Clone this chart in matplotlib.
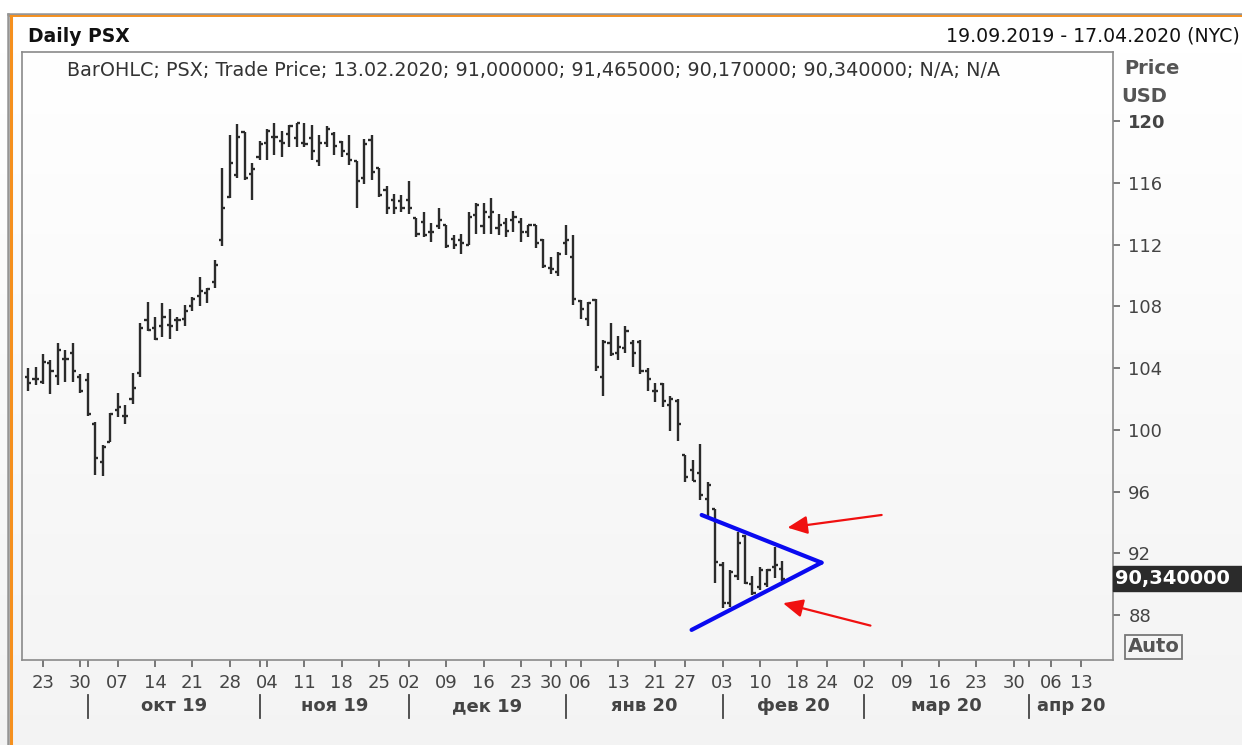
import matplotlib
matplotlib.use('Agg')
import matplotlib.pyplot as plt
import numpy as np
import pandas as pd
from matplotlib.patches import Rectangle
from matplotlib.lines import Line2D

# ---------------- data ----------------
holidays = ['2019-11-28', '2019-12-25', '2020-01-01', '2020-01-20', '2020-02-17', '2020-04-10']
range_start, range_end = '2019-09-19', '2020-04-17'

opens = [103.45, 103.3, 103.1, 104.3, 103.5, 104.6, 105.0, 103.4, 103.2, 100.4,
         97.9, 99.2, 101.3, 100.9, 102.0, 103.7, 107.1, 106.6, 106.7, 106.8,
         107.1, 107.2, 108.0, 108.7, 108.85, 109.6, 112.3, 115.1, 116.5, 119.3,
         116.6, 117.7, 118.6, 119.0, 118.7, 119.2, 118.9, 118.6, 118.9, 117.4,
         118.6, 119.2, 118.68, 117.9, 117.4, 116.3, 118.8, 116.95, 115.55, 114.9,
         114.8, 114.9, 113.7, 113.5, 112.8, 113.2, 113.3, 112.4, 112.3, 112.0,
         113.9, 113.2, 113.8, 113.1, 113.4, 113.6, 113.5, 112.8, 113.3, 112.3,
         110.5, 110.25, 112.1, 111.2, 108.35, 107.2, 108.4, 103.45, 105.65, 105.0,
         105.3, 105.65, 105.7, 103.8, 102.5, 103.0, 101.6, 101.9, 98.37, 97.4,
         97.2, 95.5, 94.85, 91.24, 88.75, 90.5, 93.1, 90.0, 89.84, 90.0,
         91.1, 91.0]
highs = [104.0, 104.1, 104.9, 104.5, 105.6, 105.2, 105.6, 103.6, 103.7, 100.5,
         99.0, 101.1, 102.4, 101.6, 103.7, 106.9, 108.3, 107.3, 108.2, 107.8,
         107.3, 108.1, 108.6, 109.9, 109.2, 111.0, 117.0, 119.1, 119.8, 119.3,
         117.3, 118.7, 119.5, 119.9, 119.4, 119.76, 119.9, 119.9, 119.76, 119.1,
         119.7, 119.3, 118.74, 119.1, 117.4, 118.83, 119.1, 117.0, 115.8, 115.3,
         115.2, 116.1, 113.7, 114.1, 113.4, 114.4, 113.3, 112.6, 112.7, 114.1,
         114.7, 114.7, 115.0, 114.0, 113.7, 114.2, 113.7, 113.3, 113.3, 112.4,
         111.2, 111.5, 113.3, 112.6, 108.4, 108.3, 108.5, 105.8, 106.9, 106.1,
         106.7, 105.8, 105.8, 104.0, 103.06, 103.06, 102.2, 102.0, 98.4, 98.05,
         99.08, 96.6, 94.9, 91.4, 90.9, 93.4, 93.2, 90.5, 91.1, 90.96,
         92.43, 91.465]
lows = [102.5, 102.9, 103.0, 102.3, 102.9, 103.1, 103.1, 102.4, 100.9, 97.1,
        97.0, 99.2, 100.8, 100.4, 101.7, 103.4, 106.4, 105.8, 106.0, 105.9,
        106.4, 106.7, 107.7, 108.0, 108.2, 109.2, 111.9, 115.0, 116.3, 116.2,
        114.9, 117.5, 117.5, 117.8, 117.7, 118.31, 118.3, 118.35, 117.5, 117.1,
        118.35, 117.8, 117.7, 117.17, 114.36, 115.93, 116.2, 115.1, 114.0, 114.0,
        114.1, 114.0, 112.5, 112.5, 112.2, 113.0, 111.8, 111.7, 111.4, 112.0,
        112.7, 112.7, 112.7, 112.6, 112.5, 112.8, 112.2, 112.5, 111.8, 110.5,
        110.1, 110.0, 111.3, 108.1, 107.2, 106.7, 103.8, 102.2, 104.8, 104.5,
        104.96, 104.05, 103.6, 102.5, 101.8, 101.46, 99.95, 99.3, 96.65, 96.7,
        95.45, 94.4, 90.05, 88.43, 88.5, 90.27, 90.0, 89.3, 89.6, 89.84,
        90.4, 90.17]
closes = [103.06, 103.3, 104.4, 103.8, 105.2, 104.6, 103.8, 102.5, 101.0, 98.2,
          98.9, 101.0, 101.5, 100.9, 102.7, 106.6, 106.5, 105.9, 107.3, 106.7,
          107.1, 107.7, 108.5, 109.0, 109.1, 110.7, 114.4, 117.3, 119.0, 116.3,
          116.9, 118.5, 119.4, 119.0, 118.6, 119.7, 119.9, 118.5, 118.1, 118.57,
          119.5, 118.4, 118.1, 117.5, 116.15, 118.5, 116.7, 115.2, 114.4, 114.4,
          114.4, 114.4, 112.7, 112.6, 112.85, 113.6, 111.9, 112.0, 112.1, 113.8,
          114.6, 114.1, 114.1, 113.3, 112.9, 113.8, 112.8, 113.3, 112.1, 110.6,
          110.4, 111.4, 112.3, 108.5, 107.8, 108.2, 104.1, 105.7, 104.9, 105.4,
          106.4, 104.96, 103.8, 103.3, 102.5, 101.9, 102.0, 100.4, 96.97, 96.7,
          95.8, 96.4, 91.4, 88.8, 90.8, 92.65, 90.1, 89.4, 90.9, 90.9,
          91.25, 90.34]

y_ticks = [88, 92, 96, 100, 104, 108, 112, 116, 120]
month_names = {10: 'окт', 11: 'ноя', 12: 'дек', 1: 'янв', 2: 'фев', 3: 'мар', 4: 'апр'}

# drawn pattern (trading-day index, price)
tri_upper_x, tri_upper_y = [90.2, 106.25], [94.48, 91.39]
tri_lower_x, tri_lower_y = [88.85, 106.25], [87.03, 91.39]
arrow_up = ((101.7, 93.66), (114.3, 94.48))     # (head, tail)
arrow_dn = ((101.1, 88.76), (112.8, 87.31))

legend_text = 'BarOHLC; PSX; Trade Price; 13.02.2020; 91,000000; 91,465000; 90,170000; 90,340000; N/A; N/A'
last_price_text = '90,340000'

# ---------------- calendar ----------------
days = pd.bdate_range(range_start, range_end)
days = days[~days.isin(pd.to_datetime(holidays))]
xi = np.arange(len(opens))

# ---------------- figure ----------------
W, H = 1242, 745
fig = plt.figure(figsize=(W / 100, H / 100), dpi=100)
plt.rcParams['font.family'] = ['DejaVu Sans']

def fx(x):
    return x / W

def fy(y):
    return 1 - y / H

# background gradient
bg = fig.add_axes([0, 0, 1, 1], zorder=-10)
grad = np.linspace(0, 1, 256)[:, None]
c_top = np.array([1.0, 1.0, 1.0])
c_bot = np.array([0.955, 0.955, 0.955])
img = c_top[None, None, :] * (1 - grad[..., None]) + c_bot[None, None, :] * grad[..., None]
img = np.repeat(img, 2, axis=1)
bg.imshow(img, aspect='auto', extent=[0, 1, 0, fy(52)], origin='upper')
bg.add_patch(Rectangle((0, fy(52)), 1, 1 - fy(52), color='white'))
bg.set_xlim(0, 1)
bg.set_ylim(0, 1)
bg.axis('off')

# outer frame lines (gray outside + orange inside)
fig.add_artist(Line2D([fx(8), 1], [fy(13.5), fy(13.5)], color='#959595', lw=1.8))
fig.add_artist(Line2D([fx(10), 1], [fy(15.8), fy(15.8)], color='#f5901e', lw=1.4))
fig.add_artist(Line2D([fx(8), fx(8)], [0, fy(13.5)], color='#959595', lw=1.8))
fig.add_artist(Line2D([fx(10.8), fx(10.8)], [0, fy(15.8)], color='#f5901e', lw=2.2))

# main axes
L, R, T, B = 22, 1113, 52, 660
ax = fig.add_axes([fx(L), fy(B), fx(R - L), (B - T) / H])
ax.set_facecolor('none')
ax.set_xlim(-0.81, 145.28)
ax.set_ylim(85.08, 124.49)

bar_col = '#2b2b2b'
ax.vlines(xi, lows, highs, color=bar_col, lw=1.7, zorder=3)
ax.hlines(opens, xi - 0.42, xi, color=bar_col, lw=1.7, zorder=3)
ax.hlines(closes, xi, xi + 0.42, color=bar_col, lw=1.7, zorder=3)

# triangle
ax.plot(tri_upper_x, tri_upper_y, color='#0a0af0', lw=3.0, solid_capstyle='round', zorder=5)
ax.plot(tri_lower_x, tri_lower_y, color='#0a0af0', lw=3.0, solid_capstyle='round', zorder=5)
for head, tail in (arrow_up, arrow_dn):
    ax.annotate('', xy=head, xytext=tail,
                arrowprops=dict(arrowstyle='-|>,head_length=1.2,head_width=0.55',
                                color='#f01010', lw=1.6, shrinkA=0, shrinkB=0), zorder=6)

for s in ax.spines.values():
    s.set_color('#8a8a8a')
    s.set_linewidth(1.2)

# y axis right
ax.yaxis.tick_right()
ax.set_yticks(y_ticks)
ax.set_yticklabels([str(v) for v in y_ticks])
ax.tick_params(axis='y', length=5, width=1.1, color='#555555', pad=6,
               labelsize=13, labelcolor='#444444')
for lab in ax.get_yticklabels():
    if lab.get_text() == '120':
        lab.set_fontweight('bold')

# x ticks: first trading day of each week + first trading day of each month
dser = pd.Series(days)
week_key = dser.dt.to_period('W-SUN')
week_first = list(dser.groupby(week_key).idxmin().values)
week_first = [i for i in week_first if i > 0 or days[i].weekday() == 0]
month_key = dser.dt.to_period('M')
month_first = [i for i in dser.groupby(month_key).idxmin().values if i > 0]
tick_pos = sorted(set(week_first) | set(month_first))
tick_lab = [days[i].strftime('%d') if i in week_first else '' for i in tick_pos]
ax.set_xticks(tick_pos)
ax.set_xticklabels(tick_lab)
ax.tick_params(axis='x', length=5, width=1.1, color='#555555', pad=5,
               labelsize=13, labelcolor='#444444')

# month separators and labels
tr = ax.get_xaxis_transform()
y_sep0, y_sep1 = (B - 695) / (B - T), (B - 718) / (B - T)
y_mlab = (B - 706) / (B - T)
bounds = month_first + [ax.get_xlim()[1]]
for k, i in enumerate(month_first):
    ax.plot([i, i], [y_sep0, y_sep1], transform=tr, color='#444444', lw=1.3, clip_on=False)
    mid = (i + bounds[k + 1]) / 2
    name = '%s %s' % (month_names[days[i].month], days[i].strftime('%y'))
    ax.text(mid, y_mlab, name, transform=tr, ha='center', va='center', fontsize=13,
            fontweight='bold', color='#444444', clip_on=False)

# header texts
fig.text(fx(28), fy(36), 'Daily PSX', ha='left', va='center', fontsize=13.5,
         fontweight='bold', color='#111111')
fig.text(fx(1240), fy(36), '19.09.2019 - 17.04.2020 (NYC)', ha='right', va='center',
         fontsize=13.6, color='#111111')
fig.text(fx(67), fy(71), legend_text, ha='left', va='center', fontsize=13.8, color='#333333')

# price axis header
fig.text(fx(1124), fy(68), 'Price', ha='left', va='center', fontsize=14,
         fontweight='bold', color='#555555')
fig.text(fx(1121), fy(96), 'USD', ha='left', va='center', fontsize=14,
         fontweight='bold', color='#555555')

# last price box
y_last = ax.transData.transform((0, closes[-1]))[1]
fig.add_artist(Rectangle((fx(1113), (y_last - 12.5) / H), fx(1242 - 1113), 25 / H,
                         color='#2b2b2b', zorder=5))
fig.text(fx(1115), y_last / H, last_price_text, ha='left', va='center', fontsize=14,
         fontweight='bold', color='white', zorder=6)

# Auto box
fig.add_artist(Rectangle((fx(1125), fy(659)), fx(57), 24 / H, facecolor='none',
                         edgecolor='#777777', lw=1.3))
fig.text(fx(1153.5), fy(647), 'Auto', ha='center', va='center', fontsize=14,
         fontweight='bold', color='#555555')

fig.savefig('out.png', dpi=100)
